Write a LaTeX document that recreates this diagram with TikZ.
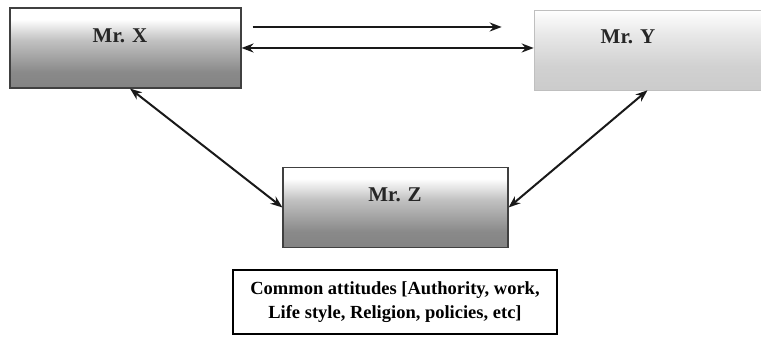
\documentclass[tikz,border=0pt]{standalone}
\usepackage{fontspec}
\setmainfont{Liberation Serif}
\usetikzlibrary{arrows.meta,calc}

% vertical shadings, listed from bottom (0bp) to top (100bp)
\pgfdeclareverticalshading{darkfade}{100bp}{%
  color(0bp)=(black!55); color(35bp)=(black!46); color(55bp)=(black!24);
  color(68bp)=(white); color(100bp)=(white)}
\pgfdeclareverticalshading{lightfade}{100bp}{%
  color(0bp)=(black!24); color(40bp)=(black!18); color(60bp)=(black!9);
  color(75bp)=(white); color(100bp)=(white)}

\tikzset{
  person/.style={rectangle, inner sep=0pt, minimum width=231pt, minimum height=80pt},
  dark/.style={person, shading=darkfade, draw=black!75, line width=1.1pt},
  light/.style={person, shading=lightfade, draw=black!25, line width=0.6pt},
  mrlabel/.style={font=\fontsize{21}{24}\selectfont\bfseries, text=black!85},
  link/.style={line width=2pt, draw=black!90},
  tip/.style={-{Stealth[length=12pt,width=9pt]}},
  twotip/.style={{Stealth[length=12pt,width=9pt]}-{Stealth[length=12pt,width=9pt]}},
  notebox/.style={rectangle, draw=black, line width=2.2pt, fill=white,
    minimum width=324pt, minimum height=64pt, align=center,
    font=\fontsize{18.5}{24}\selectfont\bfseries}
}

\begin{document}
\begin{tikzpicture}[x=1pt,y=1pt]
  \useasboundingbox (0,0) rectangle (761,347);

  % the three people
  \node[dark]  (x) at (125.5,299) {};
  \node[light, minimum width=227pt] (y) at (647.5,297) {};
  \node[dark, minimum width=225pt]  (z) at (395.5,139.5) {};
  \node[mrlabel] (xl) at (120,311) {Mr. X};
  \node[mrlabel] (yl) at (628,310) {Mr. Y};
  \node[mrlabel] (zl) at (395,152) {Mr. Z};

  % shared attitudes
  \node[notebox] (note) at (395,45) {Common attitudes [Authority, work,\\Life style, Religion, policies, etc]};

  % connectors
  \coordinate (a1s) at ($(x.east)+(11,21)$);
  \coordinate (a1e) at ($(y.west)+(-32,23)$);
  \draw[link, tip] (a1s) -- (a1e);
  \draw[link, twotip] (x.east) -- (x.east -| y.west);
  \draw[link, twotip] ($(x.south)+(4.5,0)$) -- (z.west);
  \draw[link, twotip] (y.south) -- (z.east);
\end{tikzpicture}
\end{document}
